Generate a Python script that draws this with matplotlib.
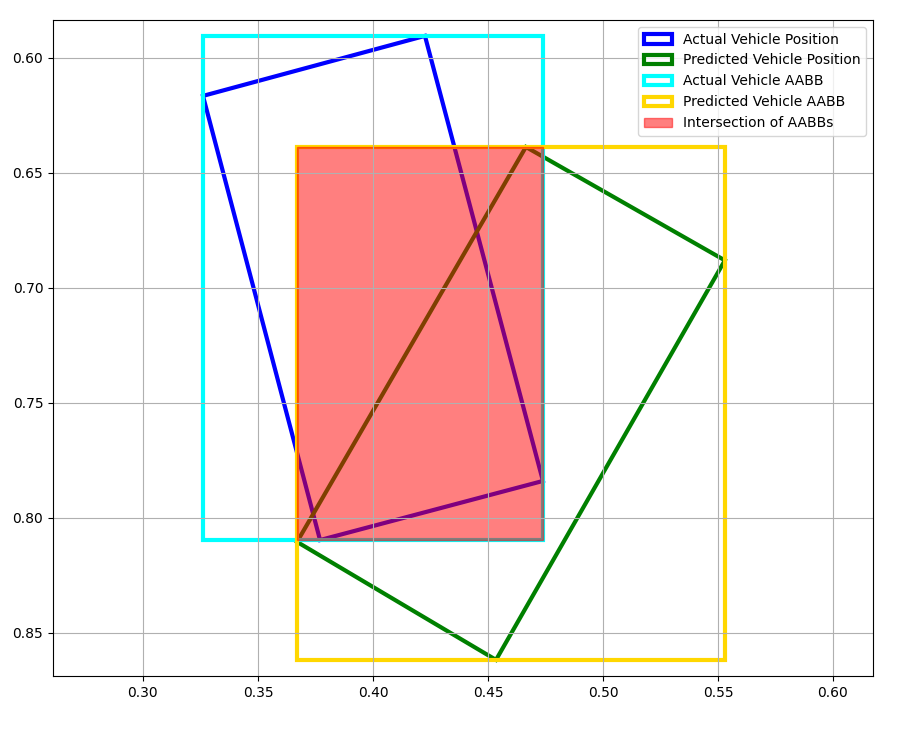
import matplotlib
matplotlib.use("Agg")
import matplotlib.pyplot as plt
from matplotlib.patches import Polygon

# corner points (x, y)
actual_pos = [(0.3261, 0.6165), (0.4226, 0.5904), (0.4739, 0.7839), (0.3770, 0.8096)]
predicted_pos = [(0.4665, 0.6387), (0.5530, 0.6880), (0.4535, 0.8617), (0.3670, 0.8104)]

def aabb(pts):
    xs = [p[0] for p in pts]; ys = [p[1] for p in pts]
    return min(xs), min(ys), max(xs), max(ys)

def box(x0, y0, x1, y1):
    return [(x0, y0), (x1, y0), (x1, y1), (x0, y1)]

a = aabb(actual_pos)
b = aabb(predicted_pos)
inter = (max(a[0], b[0]), max(a[1], b[1]), min(a[2], b[2]), min(a[3], b[3]))

fig = plt.figure(figsize=(9.13, 7.31), dpi=100)
ax = fig.add_axes([53/913, 55/731, 820/913, 656/731])

ax.add_patch(Polygon(actual_pos, closed=True, fill=False, edgecolor="blue", lw=3,
                     label="Actual Vehicle Position"))
ax.add_patch(Polygon(predicted_pos, closed=True, fill=False, edgecolor="green", lw=3,
                     label="Predicted Vehicle Position"))
ax.add_patch(Polygon(box(*a), closed=True, fill=False, edgecolor="cyan", lw=3,
                     label="Actual Vehicle AABB"))
ax.add_patch(Polygon(box(*b), closed=True, fill=False, edgecolor="gold", lw=3,
                     label="Predicted Vehicle AABB"))
ax.add_patch(Polygon(box(*inter), closed=True, color="red", alpha=0.5,
                     label="Intersection of AABBs"))

ax.set_xlim(0.2609, 0.6174)
ax.set_ylim(0.8687, 0.5835)
ax.grid(True)
ax.legend(loc="upper right")

fig.savefig("out.png", dpi=100)
